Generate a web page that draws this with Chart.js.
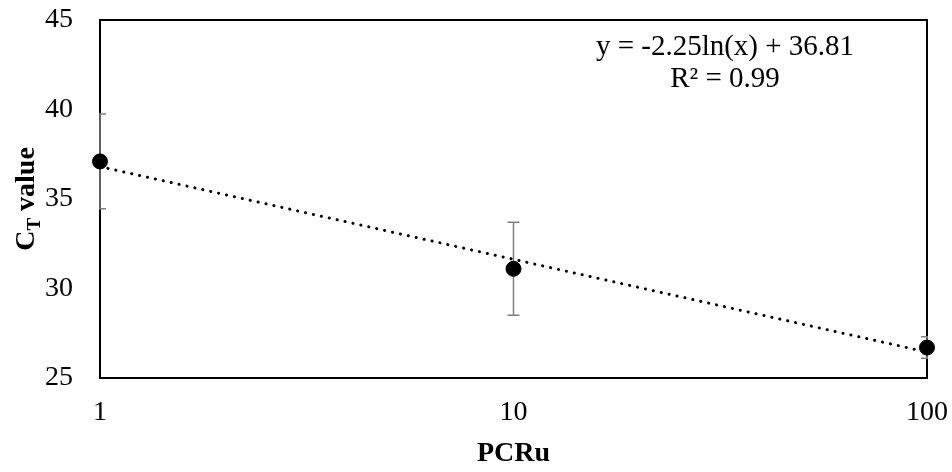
<!DOCTYPE html>
<html>
<head>
<meta charset="utf-8">
<title>CT value vs PCRu</title>
<script src="https://cdn.jsdelivr.net/npm/chart.js@4/dist/chart.umd.min.js"></script>
<style>
  html, body { margin: 0; padding: 0; background: #fff; }
  #wrap { width: 952px; height: 472px; position: relative; }
</style>
</head>
<body>
<div id="wrap"><canvas id="ctChart"></canvas></div>
<script>
// dilution (PCRu) and measured CT, with std deviation
const pcru = [1, 10, 100];
const ctMean = [37.1, 31.1, 26.7];
const ctErr = [2.65, 2.6, 0.6];

// axis ticks
const xTicks = [1, 10, 100];
const yTicks = [25, 30, 35, 40, 45];

// log trend line as printed on the chart
const trendA = -2.25;
const trendB = 36.81;
const rSquared = 0.99;

const serif = '"Liberation Serif", "Times New Roman", serif';

const trendPts = pcru.map(x => ({ x: x, y: trendA * Math.log(x) + trendB }));
const meanPts = pcru.map((x, i) => ({ x: x, y: ctMean[i] }));

// frame + error bars under the points, titles and equation on top
const extras = {
  id: "extras",
  beforeDatasetsDraw(chart) {
    const ctx = chart.ctx;
    const a = chart.chartArea;
    const xs = chart.scales.x, ys = chart.scales.y;
    ctx.save();
    ctx.strokeStyle = "#000";
    ctx.lineWidth = 2;
    ctx.strokeRect(a.left, a.top, a.right - a.left, a.bottom - a.top);

    ctx.beginPath();
    ctx.rect(a.left - 1, a.top, a.right - a.left + 2, a.bottom - a.top);
    ctx.clip();
    ctx.strokeStyle = "#7f7f7f";
    ctx.lineWidth = 1.5;
    pcru.forEach((x, i) => {
      const px = xs.getPixelForValue(x);
      const top = ys.getPixelForValue(ctMean[i] + ctErr[i]);
      const bot = ys.getPixelForValue(ctMean[i] - ctErr[i]);
      ctx.beginPath();
      ctx.moveTo(px, top); ctx.lineTo(px, bot);
      ctx.moveTo(px - 6, top); ctx.lineTo(px + 6, top);
      ctx.moveTo(px - 6, bot); ctx.lineTo(px + 6, bot);
      ctx.stroke();
    });
    ctx.restore();
  },
  afterDraw(chart) {
    const ctx = chart.ctx;
    const a = chart.chartArea;
    ctx.save();
    ctx.fillStyle = "#000";

    // x title
    ctx.font = "bold 28px " + serif;
    ctx.textAlign = "center";
    ctx.textBaseline = "middle";
    ctx.fillText("PCRu", (a.left + a.right) / 2, 454);

    // y title with subscript T
    ctx.translate(24, (a.top + a.bottom) / 2);
    ctx.rotate(-Math.PI / 2);
    const big = "bold 28px " + serif, small = "bold 19px " + serif;
    ctx.font = big; const wC = ctx.measureText("C").width;
    const wV = ctx.measureText(" value").width;
    ctx.font = small; const wT = ctx.measureText("T").width;
    let x0 = -(wC + wT + wV) / 2;
    ctx.textAlign = "left";
    ctx.textBaseline = "alphabetic";
    ctx.font = big; ctx.fillText("C", x0, 10);
    ctx.font = small; ctx.fillText("T", x0 + wC, 16);
    ctx.font = big; ctx.fillText(" value", x0 + wC + wT, 10);
    ctx.restore();

    // equation
    ctx.save();
    ctx.fillStyle = "#000";
    ctx.font = "29px " + serif;
    ctx.textAlign = "center";
    ctx.textBaseline = "middle";
    ctx.fillText("y = " + trendA.toFixed(2) + "ln(x) + " + trendB.toFixed(2), 725, 47);
    ctx.fillText("R\u00b2 = " + rSquared.toFixed(2), 725, 79);
    ctx.restore();
  }
};

new Chart(document.getElementById("ctChart"), {
  type: "scatter",
  data: {
    datasets: [
      {
        label: "CT",
        data: meanPts,
        backgroundColor: "#000",
        borderColor: "#000",
        pointRadius: 7.5,
        pointHoverRadius: 7.5,
        showLine: false,
        clip: false,
        order: 0
      },
      {
        label: "trend",
        data: trendPts,
        showLine: true,
        borderColor: "#000",
        borderWidth: 3,
        borderDash: [0.1, 8],
        borderCapStyle: "round",
        pointRadius: 0,
        fill: false,
        order: 1
      }
    ]
  },
  options: {
    responsive: true,
    maintainAspectRatio: false,
    animation: false,
    events: [],
    layout: { padding: { top: 20, right: 25, left: 0, bottom: 0 } },
    plugins: {
      legend: { display: false },
      tooltip: { enabled: false }
    },
    scales: {
      x: {
        type: "logarithmic",
        min: 1,
        max: 100,
        grid: { display: false, drawTicks: false },
        border: { display: false },
        afterBuildTicks: s => { s.ticks = xTicks.map(v => ({ value: v })); },
        afterFit: s => { s.height = 94; s.paddingLeft = 0; s.paddingRight = 0; },
        ticks: {
          padding: 18,
          color: "#000",
          font: { family: serif, size: 28 },
          callback: v => String(v),
          maxRotation: 0
        }
      },
      y: {
        min: 25,
        max: 45,
        grid: { display: false, drawTicks: false },
        border: { display: false },
        afterBuildTicks: s => { s.ticks = yTicks.map(v => ({ value: v })); },
        afterFit: s => { s.width = 100; s.paddingTop = 0; s.paddingBottom = 0; },
        ticks: {
          padding: 27,
          color: "#000",
          font: { family: serif, size: 28 }
        }
      }
    }
  },
  plugins: [extras]
});
</script>
</body>
</html>
